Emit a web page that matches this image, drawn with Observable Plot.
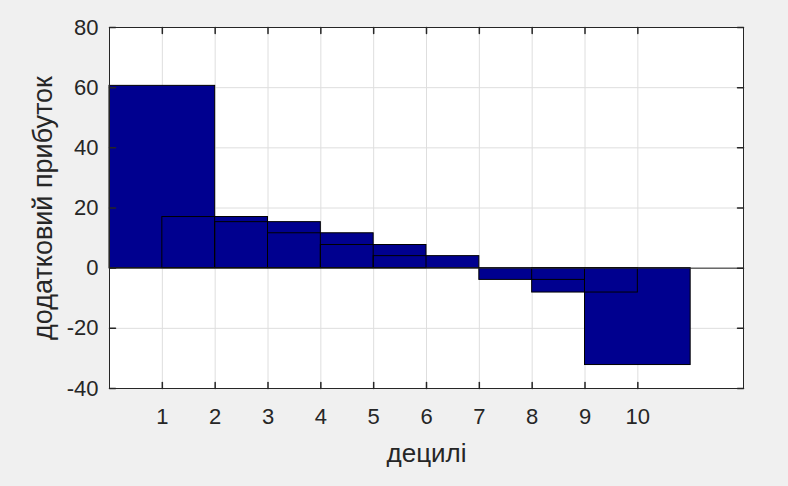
<!DOCTYPE html>
<html><head><meta charset="utf-8">
<script src="https://cdn.jsdelivr.net/npm/d3@7"></script>
<script src="https://cdn.jsdelivr.net/npm/@observablehq/plot@0.6"></script>
<style>
html,body{margin:0;padding:0;background:#f0f0f0;}
#chart{width:788px;height:486px;}
</style></head><body><div id="chart"></div>
<script>
const deciles = [1, 2, 3, 4, 5, 6, 7, 8, 9, 10];
const gains = [60.6, 17.0, 15.3, 11.6, 7.7, 4.0, 0, -3.9, -8.1, -32.2];
const xTicks = [1, 2, 3, 4, 5, 6, 7, 8, 9, 10];
const yTicks = [-40, -20, 0, 20, 40, 60, 80];
const xLabel = "децилі";
const yLabel = "додатковий прибуток";

const bars = deciles.map((d, i) => ({decile: d, gain: gains[i]}));
const halfWidth = 1;
const ink = "#262626";
const tickLen = 6;
const tickShape = {draw(ctx, l) { ctx.moveTo(0, 0); ctx.lineTo(0, -l); }};

const chart = Plot.plot({
  width: 788, height: 486,
  marginLeft: 109, marginRight: 45, marginTop: 27, marginBottom: 98,
  style: {background: "#f0f0f0", fontFamily: "'Liberation Sans', Arial, sans-serif", color: ink},
  x: {type: "linear", domain: [0, 12]},
  y: {type: "linear", domain: [-40, 80]},
  marks: [
    Plot.frame({fill: "white", stroke: "none"}),
    Plot.gridX(xTicks, {stroke: "#dedede", strokeOpacity: 1}),
    Plot.gridY(yTicks, {stroke: "#dedede", strokeOpacity: 1}),
    Plot.rect(bars, {x1: d => d.decile - halfWidth, x2: d => d.decile + halfWidth, y1: 0, y2: "gain", fill: "#00008f"}),
    Plot.rect(bars, {x1: d => d.decile - halfWidth, x2: d => d.decile + halfWidth, y1: 0, y2: "gain", fill: "none", stroke: "black", strokeWidth: 1}),
    Plot.ruleY([0], {stroke: ink}),
    Plot.frame({stroke: ink}),
    Plot.vector(xTicks, {x: d => d, frameAnchor: "bottom", length: tickLen, rotate: 0, anchor: "start", shape: tickShape, stroke: ink}),
    Plot.vector(xTicks, {x: d => d, frameAnchor: "top", length: tickLen, rotate: 180, anchor: "start", shape: tickShape, stroke: ink}),
    Plot.vector(yTicks, {y: d => d, frameAnchor: "left", length: tickLen, rotate: 90, anchor: "start", shape: tickShape, stroke: ink}),
    Plot.vector(yTicks, {y: d => d, frameAnchor: "right", length: tickLen, rotate: -90, anchor: "start", shape: tickShape, stroke: ink}),
    Plot.axisX(xTicks, {tickSize: 0, tickPadding: 20, fontSize: 22, label: null, fill: ink, tickFormat: d => String(d)}),
    Plot.axisY(yTicks, {tickSize: 0, tickPadding: 11, fontSize: 22, label: null, fill: ink, tickFormat: d => String(d)}),
    Plot.text([xLabel], {frameAnchor: "bottom", dy: 73, fontSize: 26, fill: ink, textAnchor: "middle"}),
    Plot.text([yLabel], {frameAnchor: "left", dx: -66, rotate: -90, fontSize: 27, fill: ink, textAnchor: "middle"})
  ]
});
document.getElementById("chart").appendChild(chart);
</script>
</body></html>
